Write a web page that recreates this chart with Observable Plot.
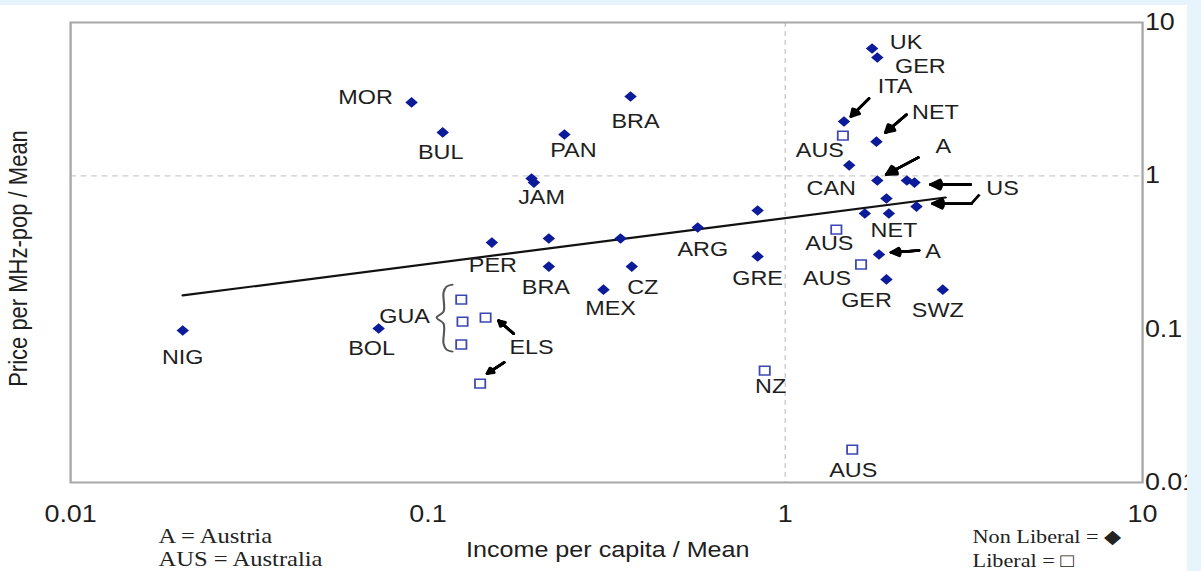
<!DOCTYPE html>
<html><head><meta charset="utf-8">
<script src="https://cdn.jsdelivr.net/npm/d3@7"></script>
<script src="https://cdn.jsdelivr.net/npm/@observablehq/plot@0.6"></script>
<style>
html,body{margin:0;padding:0;background:#e7f4fb;}
#page{position:relative;width:1201px;height:571px;overflow:hidden;background:#e7f4fb;}
#panel{position:absolute;left:0;top:5px;width:1187px;height:566px;background:#fff;overflow:hidden;}
#band{position:absolute;left:1187px;top:0;width:14px;height:571px;background:#e7f4fb;}
</style></head><body>
<div id="page"><div id="panel"></div><div id="band"></div></div>
<script>
// ---- data ----
const country = ["NIG","BOL","MOR","BUL","PAN","BRA","JAM","JAM","PER","","BRA","MEX","","CZ","ARG","","GRE",
  "UK","GER","ITA","NET","CAN","A","US","US","","","NET","US","A","GER","SWZ",
  "AUS","AUS","AUS","NZ","AUS","GUA","GUA","GUA","ELS","ELS"];
const income = [0.0206,0.0728,0.090,0.110,0.241,0.369,0.195,0.198,0.151,0.218,0.218,0.310,0.346,0.372,0.569,0.837,0.837,
  1.75,1.81,1.46,1.80,1.51,1.81,2.19,2.30,1.92,1.67,1.95,2.33,1.83,1.92,2.76,
  1.45,1.39,1.63,0.876,1.54,0.124,0.125,0.124,0.145,0.140];
const price = [0.098,0.101,3.01,1.92,1.86,3.29,0.96,0.904,0.367,0.390,0.256,0.181,0.390,0.256,0.460,0.594,0.298,
  6.77,5.91,2.26,1.67,1.17,0.932,0.932,0.904,0.711,0.568,0.568,0.630,0.307,0.211,0.181,
  1.83,0.446,0.264,0.0537,0.0164,0.156,0.112,0.0794,0.119,0.0442];
const regime = [...Array(32).fill("Non Liberal"), ...Array(10).fill("Liberal")];
const labelText = ["NIG","BOL","MOR","BUL","PAN","BRA","JAM","","PER","","BRA","MEX","","CZ","ARG","","GRE",
  "UK","GER","ITA","NET","CAN","A","","US","","","NET","","A","GER","SWZ",
  "AUS","AUS","AUS","NZ","AUS","","GUA","","ELS",""];
// regression line endpoints (income, price)
const fitIncome = [0.0206, 2.81];
const fitPrice = [0.166, 0.722];
const xTicks = [0.01, 0.1, 1, 10];
const xTickLabels = ["0.01", "0.1", "1", "10"];
const yTicks = [0.01, 0.1, 1, 10];
const yTickLabels = ["0.01", "0.1", "1", "10"];
const xTitle = "Income per capita / Mean";
const yTitle = "Price per MHz-pop / Mean";
const legendLeft = ["A = Austria", "AUS = Australia"];
const legendRight = ["Non Liberal = \u25C6", "Liberal = \u25A1"];

// ---- annotation layout (screen px offsets) ----
const labelDx = [0,-7,-46,-2,9,5,10,0,1,0,-3,7,0,11,5,0,0, 34,43,51,59,-18,66,0,88,0,0,5,0,54,-20,-5, -23,-7,-34,6,1,0,-58,0,46,0];
const labelDy = [27,20,-5,20,16,25,19,0,23,0,21,19,0,21,22,0,22, -6,9,-35,-29,23,-34,0,6,0,0,17,0,-3,21,21, 15,14,14,16,21,0,-5,0,30,0];
const arrowAt   = [19, 20, 22, 24, 28, 29, 40, 41];
const arrowHead = [[7,-5],[9,-9],[9,-6],[16,2],[16,-3],[12,-2],[13,3],[7,-10]];
const arrowTail = [[25,-23],[30,-27],[41,-23],[56,2],[55,-3],[40,-4],[28,16],[24,-21]];
const bendAt = 28, bendFrom = [55,-3], bendTo = [63,-12];
const braceAt = 38;
const braceDx = [-10,-16,-19,-19,-26,-19,-19,-16,-10];
const braceDy = [-37,-35,-29,-10,-4,2,22,28,30];

// ---- geometry ----
const S = 1.17;                      // horizontal stretch of the original figure
const W = 1187, H = 566;
const FL = 70, FR = 1142, FT = 17, FB = 477;
const NW = W / S;
const XDEC = (FR - FL) / 3, YDEC = (FB - FT) / 3;
const offX = (x, px) => x * Math.pow(10, px / XDEC);
const offY = (y, px) => y * Math.pow(10, -px / YDEC);

const idx = d3.range(country.length);
const nonLib = idx.filter(i => regime[i] === "Non Liberal");
const lib = idx.filter(i => regime[i] === "Liberal");
const labeled = idx.filter(i => labelText[i] !== "");
const arrows = arrowAt.map((p, k) => ({
  x1: offX(income[p], arrowTail[k][0]), y1: offY(price[p], arrowTail[k][1]),
  x2: offX(income[p], arrowHead[k][0]), y2: offY(price[p], arrowHead[k][1])
}));
const bend = [{x1: offX(income[bendAt], bendFrom[0]), y1: offY(price[bendAt], bendFrom[1]),
               x2: offX(income[bendAt], bendTo[0]), y2: offY(price[bendAt], bendTo[1])}];
const brace = braceDx.map((dx, k) => ({x: offX(income[braceAt], dx), y: offY(price[braceAt], braceDy[k])}));
const fit = fitIncome.map((x, k) => ({x, y: fitPrice[k]}));

const arrowMarks = [60, 45, 30, 15].map(a => Plot.arrow(arrows, {
  x1: "x1", y1: "y1", x2: "x2", y2: "y2", stroke: "#000", strokeWidth: 2.4, headAngle: a, headLength: 6
}));
const serif = "'Liberation Serif', 'Times New Roman', serif";

const plot = Plot.plot({
  width: NW, height: H,
  marginLeft: FL / S, marginRight: NW - FR / S, marginTop: FT, marginBottom: H - FB,
  style: {fontFamily: "'Liberation Sans', Arial, sans-serif", fontSize: "20px", color: "#1e1e1e", background: "transparent", overflow: "visible"},
  x: {type: "log", domain: [0.01, 10]},
  y: {type: "log", domain: [0.01, 10]},
  marks: [
    Plot.ruleY([1], {stroke: "#cccccc", strokeDasharray: "5,4", strokeWidth: 1.2}),
    Plot.ruleX([1], {stroke: "#cccccc", strokeDasharray: "5,4", strokeWidth: 1.2}),
    Plot.frame({stroke: "#a8a8a8", strokeWidth: 2}),
    Plot.axisX({anchor: "bottom", ticks: xTicks, tickFormat: d => xTickLabels[xTicks.indexOf(d)], tickSize: 0, tickPadding: 23, fontSize: 23, label: null}),
    Plot.axisY({anchor: "right", ticks: yTicks, tickFormat: d => yTickLabels[yTicks.indexOf(d)], tickSize: 0, tickPadding: 2, fontSize: 23, label: null}),
    Plot.line(fit, {x: "x", y: "y", stroke: "#111", strokeWidth: 2.2}),
    Plot.line(brace, {x: "x", y: "y", stroke: "#555", strokeWidth: 1.8, curve: "catmull-rom"}),
    Plot.link(bend, {x1: "x1", y1: "y1", x2: "x2", y2: "y2", stroke: "#000", strokeWidth: 2.4}),
    ...arrowMarks,
    Plot.dot(nonLib, {x: i => income[i], y: i => price[i], symbol: "diamond2", r: 4.8, fill: "#0c1b9a"}),
    Plot.dot(lib, {x: i => income[i], y: i => price[i], symbol: "square2", r: 5.6, fill: "white", stroke: "#3b47b3", strokeWidth: 1.5}),
    Plot.text(labeled, {x: i => offX(income[i], labelDx[i]), y: i => offY(price[i], labelDy[i]), text: i => labelText[i], fontSize: 20, fill: "#1e1e1e"}),
    Plot.text([xTitle], {frameAnchor: "bottom", dx: 1, dy: 75, fontSize: 21.5, fill: "#1e1e1e"}),
    Plot.text([yTitle], {frameAnchor: "left", textAnchor: "middle", rotate: -90, dx: 15.4 - FL / S, dy: 6, fontSize: 22, fill: "#1e1e1e"}),
    Plot.text([legendLeft[0]], {frameAnchor: "bottom-left", textAnchor: "start", dx: 158 / S - FL / S, dy: 61, fontSize: 21, fontFamily: serif, fill: "#222"}),
    Plot.text([legendLeft[1]], {frameAnchor: "bottom-left", textAnchor: "start", dx: 158 / S - FL / S, dy: 84, fontSize: 21, fontFamily: serif, fill: "#222"}),
    Plot.text([legendRight[0]], {frameAnchor: "bottom-right", textAnchor: "start", dx: 972 / S - FR / S, dy: 61, fontSize: 19, fontFamily: serif, fill: "#222"}),
    Plot.text([legendRight[1]], {frameAnchor: "bottom-right", textAnchor: "start", dx: 972 / S - FR / S, dy: 85, fontSize: 19, fontFamily: serif, fill: "#222"})
  ]
});
plot.style.transform = `scaleX(${S})`;
plot.style.transformOrigin = "0 0";
plot.style.display = "block";
document.getElementById("panel").appendChild(plot);
</script>
</body></html>
